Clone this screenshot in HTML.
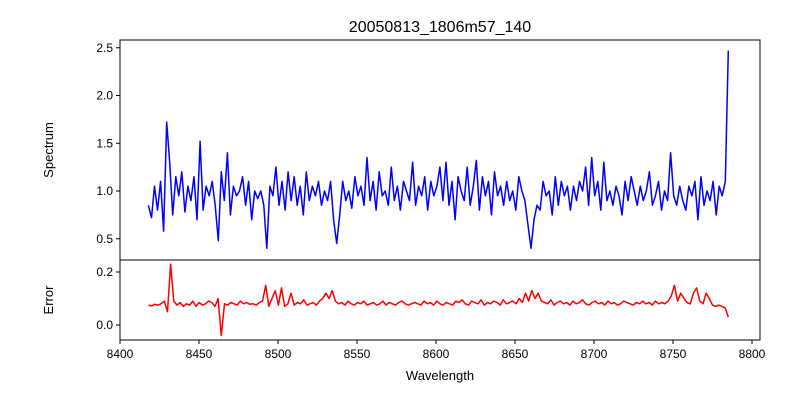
<!DOCTYPE html>
<html><head><meta charset="utf-8"><style>
body{margin:0;background:#fff}
svg text{font-family:"Liberation Sans","DejaVu Sans",sans-serif;fill:#000}
</style></head><body>
<svg id="c" width="800" height="400" xmlns="http://www.w3.org/2000/svg">
<rect width="800" height="400" fill="#fff"/>
<text x="440" y="32" font-size="16" text-anchor="middle">20050813_1806m57_140</text>
<text transform="translate(53,150) rotate(-90)" font-size="13" text-anchor="middle">Spectrum</text>
<text transform="translate(53,300) rotate(-90)" font-size="13" text-anchor="middle">Error</text>
<text x="440" y="380" font-size="13" text-anchor="middle">Wavelength</text>
<g id="g"></g>
</svg>
<script>
const wlStart = 8418, wlEnd = 8785;
const spectrum = [0.85,0.72,1.05,0.80,1.10,0.58,1.72,1.30,0.75,1.15,0.95,1.20,0.78,1.05,0.90,1.15,0.70,1.52,0.80,1.05,0.95,1.10,0.85,0.48,1.20,0.90,1.40,0.75,1.05,0.95,1.00,1.15,0.85,1.10,0.70,1.00,0.92,1.00,0.85,0.40,1.05,0.95,1.25,0.85,1.10,0.80,1.20,0.90,1.15,0.85,1.05,0.75,1.20,0.90,1.05,0.95,1.10,0.85,1.00,0.90,1.10,0.70,0.45,0.75,1.10,0.90,1.00,0.82,1.15,0.95,1.05,0.85,1.35,0.90,1.10,0.80,1.20,0.95,1.00,0.85,1.25,0.90,1.05,0.80,1.10,1.00,0.90,1.30,0.85,1.05,0.95,1.15,0.80,1.10,0.95,1.05,1.25,0.90,1.30,0.85,1.10,0.70,1.15,1.00,0.90,1.25,0.85,1.05,1.32,0.80,1.15,0.95,1.10,0.75,1.20,0.95,1.05,0.85,1.10,0.90,1.00,0.80,1.15,1.00,0.90,0.65,0.40,0.70,0.85,0.80,1.10,0.95,1.00,0.75,1.15,0.85,1.10,0.95,1.05,0.80,1.05,0.90,1.10,1.00,1.25,0.85,1.35,0.95,1.10,0.80,1.30,0.90,1.00,0.85,1.05,0.95,0.75,1.10,0.90,1.15,1.00,0.85,1.05,0.90,1.00,1.20,0.85,0.95,1.10,0.80,1.00,0.90,1.40,0.95,0.85,1.05,0.90,0.80,1.05,0.95,1.10,0.70,1.15,0.85,1.00,0.90,1.10,0.75,1.05,0.95,1.10,2.47];
const errors = [0.075,0.072,0.078,0.075,0.080,0.090,0.05,0.23,0.09,0.075,0.085,0.07,0.08,0.075,0.09,0.07,0.085,0.075,0.08,0.09,0.085,0.07,0.10,-0.04,0.08,0.075,0.085,0.08,0.075,0.09,0.08,0.085,0.078,0.08,0.075,0.085,0.09,0.15,0.07,0.10,0.13,0.075,0.14,0.07,0.08,0.12,0.075,0.085,0.08,0.095,0.075,0.08,0.085,0.075,0.09,0.10,0.12,0.10,0.13,0.09,0.08,0.085,0.075,0.09,0.08,0.075,0.085,0.08,0.09,0.075,0.08,0.085,0.075,0.08,0.09,0.075,0.085,0.08,0.075,0.085,0.09,0.08,0.075,0.08,0.085,0.08,0.075,0.09,0.08,0.085,0.075,0.09,0.08,0.075,0.085,0.08,0.075,0.09,0.085,0.095,0.08,0.075,0.09,0.085,0.08,0.095,0.075,0.085,0.08,0.09,0.085,0.075,0.095,0.08,0.085,0.09,0.08,0.10,0.085,0.12,0.09,0.13,0.10,0.12,0.09,0.085,0.08,0.095,0.075,0.085,0.09,0.08,0.085,0.075,0.09,0.08,0.085,0.095,0.08,0.075,0.085,0.09,0.08,0.085,0.075,0.09,0.08,0.085,0.075,0.08,0.09,0.085,0.08,0.075,0.085,0.08,0.09,0.08,0.085,0.075,0.09,0.08,0.085,0.08,0.09,0.11,0.15,0.09,0.12,0.10,0.085,0.08,0.12,0.14,0.09,0.08,0.12,0.10,0.075,0.07,0.075,0.07,0.065,0.03];
const xTicks = [8400,8450,8500,8550,8600,8650,8700,8750,8800];
const specTicks = [0.5,1.0,1.5,2.0,2.5];
const errTicks = [0.0,0.2];

const L=120,R=760,T1=40,B1=260,B2=340;
const xS = w => 120 + (w-8400)*1.58;
const yS = v => 191 - (v-1)*95.5;
const yE = v => 325 - v*265;
const NS="http://www.w3.org/2000/svg";
const g=document.getElementById('g');
function mk(tag,attrs,parent){const e=document.createElementNS(NS,tag);for(const k in attrs)e.setAttribute(k,attrs[k]);(parent||g).appendChild(e);return e;}
function wl(i,n){return wlStart + i*(wlEnd-wlStart)/(n-1);}

let p=mk('polyline',{points:spectrum.map((v,i)=>xS(wl(i,spectrum.length)).toFixed(1)+','+yS(v).toFixed(1)).join(' '),fill:'none',stroke:'#0000ff','stroke-width':1.5,'stroke-linejoin':'round'});


let q=mk('polyline',{points:errors.map((v,i)=>xS(wl(i,errors.length)).toFixed(1)+','+yE(v).toFixed(1)).join(' '),fill:'none',stroke:'#ff0000','stroke-width':1.5,'stroke-linejoin':'round'});



let f1=mk('rect',{x:L,y:T1,width:R-L,height:B1-T1,fill:'none',stroke:'#000','stroke-width':1});


let f2=mk('rect',{x:L,y:B1,width:R-L,height:B2-B1,fill:'none',stroke:'#000','stroke-width':1});



xTicks.forEach(t=>{const x=xS(t);
 mk('line',{x1:x,x2:x,y1:B2,y2:B2+4,stroke:'#000'});
 const tx=mk('text',{x:x,y:B2+18,'font-size':12,'text-anchor':'middle'});tx.textContent=t;
 
 
});
specTicks.forEach(t=>{const y=yS(t);
 mk('line',{x1:L-4,x2:L,y1:y,y2:y,stroke:'#000'});
 const tx=mk('text',{x:L-7,y:y+4,'font-size':12,'text-anchor':'end'});tx.textContent=t.toFixed(1);
 
 
});
errTicks.forEach(t=>{const y=yE(t);
 mk('line',{x1:L-4,x2:L,y1:y,y2:y,stroke:'#000'});
 const tx=mk('text',{x:L-7,y:y+4,'font-size':12,'text-anchor':'end'});tx.textContent=t.toFixed(1);
 
 
});
</script>
</body></html>
